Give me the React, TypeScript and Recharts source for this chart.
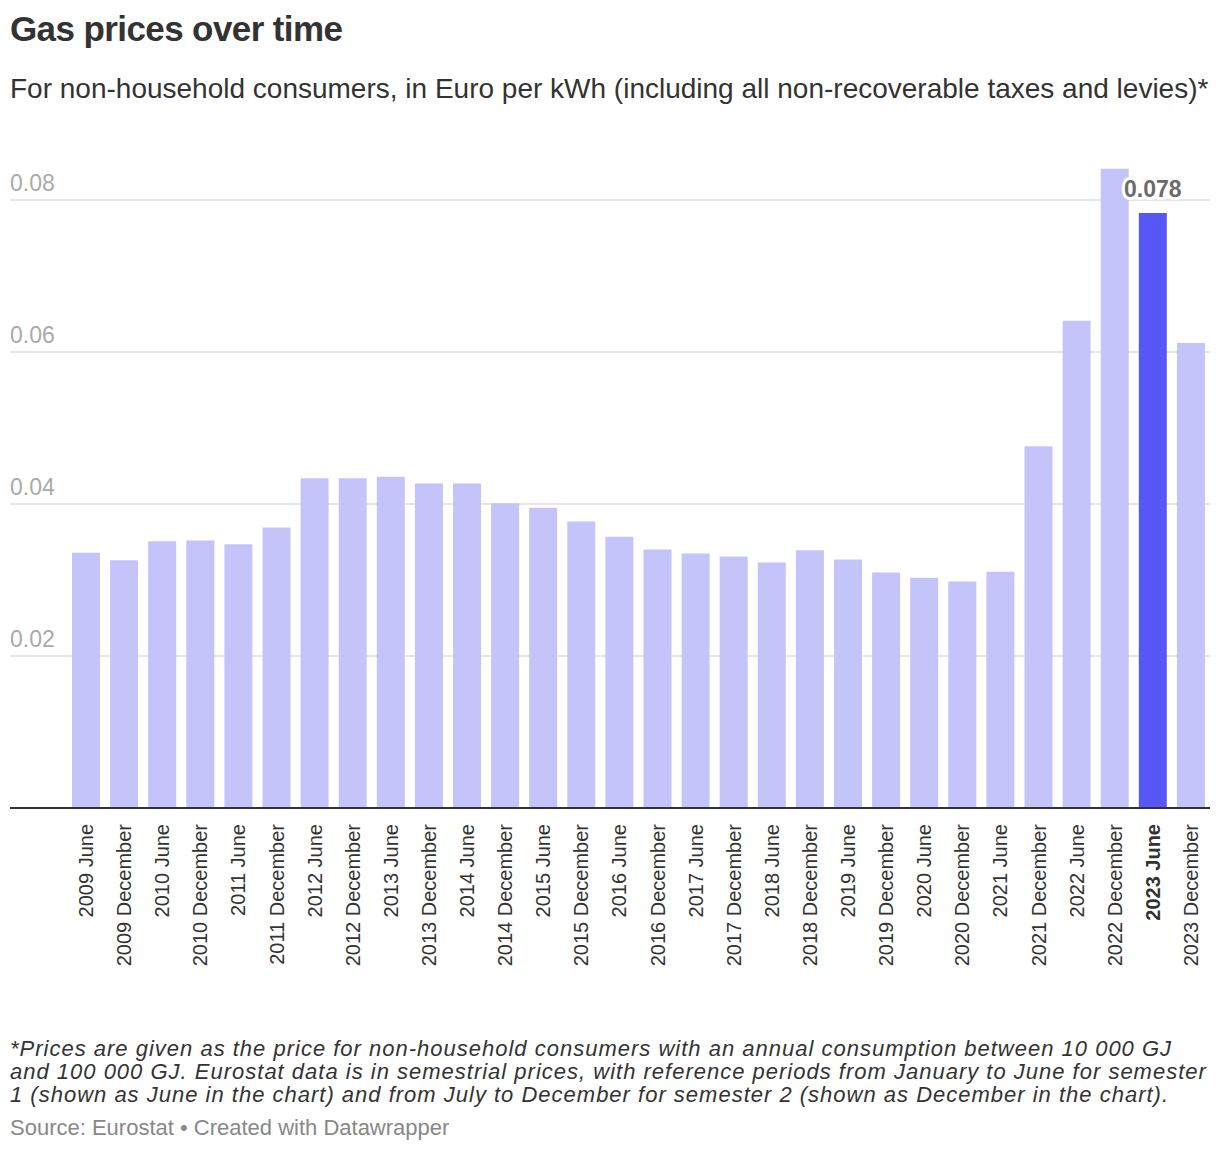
import { BarChart, Bar, XAxis, YAxis, CartesianGrid, ReferenceLine, Cell, LabelList } from "recharts";

const periods = [
  "2009 June", "2009 December", "2010 June", "2010 December", "2011 June", "2011 December",
  "2012 June", "2012 December", "2013 June", "2013 December", "2014 June", "2014 December",
  "2015 June", "2015 December", "2016 June", "2016 December", "2017 June", "2017 December",
  "2018 June", "2018 December", "2019 June", "2019 December", "2020 June", "2020 December",
  "2021 June", "2021 December", "2022 June", "2022 December", "2023 June", "2023 December",
];

const prices = [
  0.0336, 0.0326, 0.0351, 0.0352, 0.0347, 0.0369,
  0.0434, 0.0434, 0.0436, 0.0427, 0.0427, 0.0401,
  0.0395, 0.0377, 0.0357, 0.034, 0.0335, 0.0331,
  0.0323, 0.0339, 0.0327, 0.031, 0.0303, 0.0298,
  0.0311, 0.0476, 0.0641, 0.0841, 0.0783, 0.0612,
];

const yTicks = [0.02, 0.04, 0.06, 0.08];
const highlight = "2023 June";

const data = periods.map((period, i) => ({ period, price: prices[i] }));

const FONT = "'Helvetica Neue', Helvetica, Arial, 'Liberation Sans', sans-serif";
const LIGHT = "#c4c4fa";
const DARK = "#5757f7";

const XTick = (props: any) => {
  const { x, y, payload } = props;
  const bold = payload.value === highlight;
  return (
    <text
      x={x}
      y={y + 14}
      transform={`rotate(-90, ${x}, ${y + 14})`}
      textAnchor="end"
      dy="0.35em"
      fontSize={20}
      fontFamily={FONT}
      fontWeight={bold ? 700 : 400}
      fill="#333"
    >
      {payload.value}
    </text>
  );
};

// grid label sitting above its line, at the left edge
const GridLabel = (props: any) => {
  const { viewBox, value } = props;
  return (
    <text x={10} y={viewBox.y - 9} textAnchor="start" fontSize={23} fontFamily={FONT} fill="#aaa">
      {value}
    </text>
  );
};

const ValueLabel = (props: any) => {
  const { x, y, width, value, index } = props;
  if (periods[index] !== highlight) return null;
  return (
    <text
      x={x + width / 2}
      y={y - 16}
      textAnchor="middle"
      fontSize={23}
      fontWeight={700}
      fontFamily={FONT}
      fill="#6b6b6b"
      stroke="#fff"
      strokeWidth={6}
      strokeLinejoin="round"
      paintOrder="stroke"
    >
      {Number(value).toFixed(3)}
    </text>
  );
};

const footLine = { fontSize: 22, fontStyle: "italic", color: "#333", lineHeight: "23px", height: 23, letterSpacing: 1, whiteSpace: "nowrap" } as const;

export default function App() {
  return (
    <div style={{ position: "absolute", left: 0, top: 0, width: 1220, height: 1154, background: "#fff", fontFamily: FONT }}>
      <div style={{ position: "absolute", left: 10, top: 9, fontSize: 35, fontWeight: 700, color: "#333", letterSpacing: -0.6, lineHeight: "40px" }}>
        Gas prices over time
      </div>
      <div style={{ position: "absolute", left: 10, top: 73, fontSize: 28, color: "#333", lineHeight: "32px", whiteSpace: "nowrap" }}>
        For non-household consumers, in Euro per kWh (including all non-recoverable taxes and levies)*
      </div>
      <div style={{ position: "absolute", left: 0, top: 0 }}>
        <BarChart width={1220} height={1000} data={data} margin={{ top: 162, right: 10, left: 10, bottom: 0 }}>
          <CartesianGrid vertical={false} horizontalValues={yTicks} stroke="#e6e6e6" strokeWidth={2} />
          <YAxis domain={[0, 0.085]} ticks={yTicks} hide />
          {yTicks.map((t) => (
            <ReferenceLine key={t} y={t} stroke="none" label={<GridLabel value={t} />} />
          ))}
          <XAxis
            dataKey="period"
            interval={0}
            height={192}
            tickLine={false}
            tickSize={0}
            axisLine={{ stroke: "#333", strokeWidth: 2 }}
            padding={{ left: 57, right: 0 }}
            tick={<XTick />}
          />
          <Bar dataKey="price" barSize={28} isAnimationActive={false}>
            {data.map((d) => (
              <Cell key={d.period} fill={d.period === highlight ? DARK : LIGHT} />
            ))}
            <LabelList dataKey="price" content={<ValueLabel />} />
          </Bar>
        </BarChart>
      </div>
      <div style={{ position: "absolute", left: 10, top: 1037 }}>
        <div style={footLine}>*Prices are given as the price for non-household consumers with an annual consumption between 10 000 GJ</div>
        <div style={footLine}>and 100 000 GJ. Eurostat data is in semestrial prices, with reference periods from January to June for semester</div>
        <div style={footLine}>1 (shown as June in the chart) and from July to December for semester 2 (shown as December in the chart).</div>
      </div>
      <div style={{ position: "absolute", left: 10, top: 1115, fontSize: 22, color: "#888", lineHeight: "26px" }}>
        Source: Eurostat • Created with Datawrapper
      </div>
    </div>
  );
}
